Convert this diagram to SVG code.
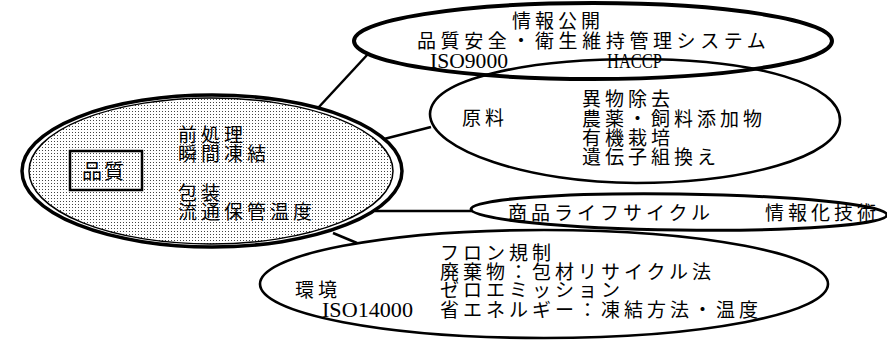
<svg xmlns="http://www.w3.org/2000/svg" width="887" height="343" viewBox="0 0 887 343">
<defs>
<pattern id="dots" width="3" height="3" patternUnits="userSpaceOnUse">
<rect x="0" y="0" width="1" height="1" fill="#444"/>
</pattern>
</defs>
<style>
.jp{font-family:"Noto Sans CJK JP","Noto Sans CJK SC",sans-serif;font-size:19px;letter-spacing:4px;fill:#000}
.en{font-family:"Liberation Serif","Times New Roman",serif;font-size:21px;fill:#000}
.ln{fill:none;stroke:#000;stroke-width:2.5}
.sh{fill:none;stroke:#000;stroke-width:2.6}
</style>
<rect width="887" height="343" fill="#fff"/>
<g id="connectors">
<line class="ln" x1="318" y1="108" x2="368" y2="54"/>
<line class="ln" x1="384" y1="139" x2="431" y2="127"/>
<line class="ln" x1="375" y1="211" x2="473" y2="211"/>
<line class="ln" x1="333" y1="233" x2="357" y2="243"/>
</g>
<g id="quality">
<ellipse cx="211" cy="171" rx="182" ry="73" fill="url(#dots)" stroke="#000" stroke-width="1.5"/>
<ellipse cx="212" cy="171" rx="190" ry="76" fill="none" stroke="#000" stroke-width="3.5"/>
<rect x="70" y="151" width="72" height="39" fill="none" stroke="#000" stroke-width="2.5"/>
<text class="jp" x="82" y="179" style="font-size:20px;letter-spacing:2px">品質</text>
<text class="jp" x="178" y="142">前処理</text>
<text class="jp" x="178" y="161">瞬間凍結</text>
<text class="jp" x="178" y="200">包装</text>
<text class="jp" x="178" y="219">流通保管温度</text>
</g>
<g id="info">
<ellipse class="sh" cx="593" cy="41" rx="239" ry="38" style="stroke-width:4"/>
<text class="jp" x="512" y="28">情報公開</text>
<text class="jp" x="417" y="48" style="letter-spacing:4.6px">品質安全・衛生維持管理システム</text>
<text class="en" x="430" y="68" textLength="78" lengthAdjust="spacingAndGlyphs">ISO9000</text>
<text class="en" x="607" y="68" textLength="55" lengthAdjust="spacingAndGlyphs">HACCP</text>
</g>
<g id="material">
<path class="sh" d="M430,114 C431,78 530,59 636,59 C760,59 840,85 840,120 C840,158 740,183 636,183 C530,183 430,150 430,114 Z"/>
<text class="jp" x="462" y="125">原料</text>
<text class="jp" x="582" y="106">異物除去</text>
<text class="jp" x="582" y="126">農薬・飼料添加物</text>
<text class="jp" x="582" y="145">有機栽培</text>
<text class="jp" x="582" y="164">遺伝子組換え</text>
</g>
<g id="lifecycle">
<ellipse class="sh" cx="679" cy="212" rx="208" ry="18" transform="rotate(0.8 679 212)" style="stroke-width:3"/>
<text class="jp" x="508" y="220">商品ライフサイクル</text>
<text class="jp" x="765" y="220">情報化技術</text>
</g>
<g id="environment">
<ellipse class="sh" cx="544" cy="284" rx="284" ry="54"/>
<text class="jp" x="295" y="297">環境</text>
<text class="en" x="322" y="317" textLength="91" lengthAdjust="spacingAndGlyphs">ISO14000</text>
<text class="jp" x="440" y="260">フロン規制</text>
<text class="jp" x="440" y="279">廃棄物：包材リサイクル法</text>
<text class="jp" x="440" y="297">ゼロエミッション</text>
<text class="jp" x="440" y="317">省エネルギー：凍結方法・温度</text>
</g>
</svg>
